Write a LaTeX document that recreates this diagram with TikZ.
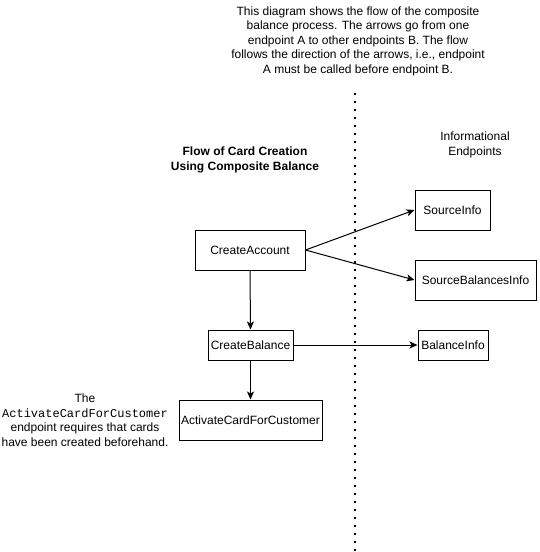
\documentclass[tikz,border=0pt]{standalone}
\usepackage{fontspec}
\setmainfont{Liberation Sans}
\setmonofont{Liberation Mono}
\usetikzlibrary{arrows.meta}

\begin{document}
\begin{tikzpicture}[x=1pt,y=-1pt,line width=1pt,
	font=\fontsize{12}{14.5}\selectfont,
	endpoint/.style={draw,inner sep=0pt,minimum height=40pt},
	flow/.style={-{Stealth[length=8pt,width=7pt,inset=2pt]}}]
	\useasboundingbox (0,0) rectangle (539,552);
	%NOTES
	\node[align=center] (note) at (358,41) {This diagram shows the flow of the composite\\balance process. The arrows go from one\\endpoint A to other endpoints B. The flow\\follows the direction of the arrows, i.e., endpoint\\A must be called before endpoint B.};
	\node[align=center,font=\fontsize{12}{14.5}\selectfont\bfseries] (title) at (245,160) {Flow of Card Creation\\Using Composite Balance};
	\node[align=center] (info) at (475,145) {Informational\\Endpoints};
	\node[align=center] (remark) at (85,420) {The\\\texttt{ActivateCardForCustomer}\\endpoint requires that cards\\have been created beforehand.};
	
	%SEPARATOR
	\coordinate (sepTop) at (355,93);
	\coordinate (sepBot) at (355,552);
	\draw[line width=2pt,dash pattern=on 2pt off 6pt] (sepTop)--(sepBot);
	
	%ENDPOINTS
	\node[endpoint,minimum width=110pt] (account) at (250,250) {CreateAccount};
	\node[endpoint,minimum width=85pt,minimum height=30pt] (balance) at (250.5,345) {CreateBalance};
	\node[endpoint,minimum width=143pt] (activate) at (250.5,420) {ActivateCardForCustomer};
	%
	\node[endpoint,minimum width=75pt] (source) at (452.5,210) {SourceInfo};
	\node[endpoint,minimum width=121pt] (sourceBal) at (475.5,280) {SourceBalancesInfo};
	\node[endpoint,minimum width=70pt,minimum height=30pt] (balanceInfo) at (453,345) {BalanceInfo};
	
	%ARROWS
	\draw[flow] (account.east)--(source.west);
	\draw[flow] (account.east)--(sourceBal.west);
	\draw[flow] (account.south)--(balance.north);
	\draw[flow] (balance.east)--(balanceInfo.west);
	\draw[flow] (balance.south)--(activate.north);
\end{tikzpicture}
\end{document}
